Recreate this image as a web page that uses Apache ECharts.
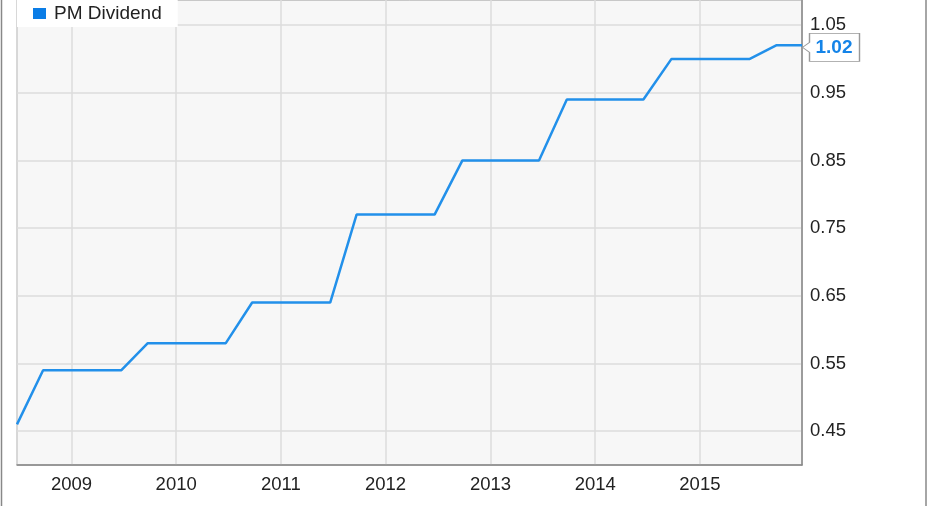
<!DOCTYPE html>
<html>
<head>
<meta charset="utf-8">
<script src="https://cdn.jsdelivr.net/npm/echarts@6/dist/echarts.min.js"></script>
<style>
  html, body { margin: 0; padding: 0; background: #fff; }
  #chart { width: 931px; height: 506px; }
</style>
</head>
<body>
<div id="chart"></div>
<script>
  // quarterly ex-dividend dates and the dividend paid per share
  const dates = [
    '2008-06-25', '2008-09-24', '2008-12-23', '2009-03-25', '2009-06-24',
    '2009-09-24', '2009-12-22', '2010-03-24', '2010-06-23', '2010-09-23',
    '2010-12-22', '2011-03-23', '2011-06-22', '2011-09-22', '2011-12-21',
    '2012-03-21', '2012-06-20', '2012-09-25', '2012-12-19', '2013-03-20',
    '2013-06-19', '2013-09-24', '2013-12-18', '2014-03-19', '2014-06-18',
    '2014-09-24', '2014-12-23', '2015-03-25', '2015-06-24', '2015-09-24',
    '2015-12-23'
  ]
  const dividend = [
    0.46, 0.54, 0.54, 0.54, 0.54,
    0.58, 0.58, 0.58, 0.58, 0.64,
    0.64, 0.64, 0.64, 0.77, 0.77,
    0.77, 0.77, 0.85, 0.85, 0.85,
    0.85, 0.94, 0.94, 0.94, 0.94,
    1.00, 1.00, 1.00, 1.00, 1.02,
    1.02
  ]
  const yTicks = [0.45, 0.55, 0.65, 0.75, 0.85, 0.95, 1.05]
  const seriesName = 'PM Dividend'

  const font = 'Liberation Sans, Arial, sans-serif'
  const last = dates.length - 1
  const chart = echarts.init(document.getElementById('chart'))

  chart.setOption({
    animation: false,
    grid: {
      left: 17,
      right: 129,
      top: 0,
      bottom: 41,
      show: true,
      backgroundColor: '#f7f7f7',
      borderColor: '#999',
      borderWidth: 1
    },
    legend: {
      data: [{ name: seriesName, icon: 'rect' }],
      left: 17,
      top: 0,
      itemWidth: 13,
      itemHeight: 11,
      padding: [4, 16, 4, 16],
      backgroundColor: '#fff',
      textStyle: {
        fontFamily: font,
        fontSize: 19,
        color: '#222',
        padding: [0, 0, 0, 3]
      }
    },
    xAxis: {
      type: 'time',
      min: 'dataMin',
      max: 'dataMax',
      minInterval: 365 * 24 * 3600 * 1000,
      maxInterval: 366 * 24 * 3600 * 1000,
      axisLine: { lineStyle: { color: '#888', width: 1.5 } },
      axisTick: { show: false },
      splitLine: { show: true, lineStyle: { color: '#dcdcdc', width: 1.5 } },
      axisLabel: {
        formatter: '{yyyy}',
        color: '#222',
        fontFamily: font,
        fontSize: 18.5,
        margin: 10,
        showMinLabel: false,
        showMaxLabel: false
      }
    },
    yAxis: {
      type: 'value',
      position: 'right',
      min: 0.4,
      max: 1.087,
      axisLine: { show: true, lineStyle: { color: '#888', width: 1.5 } },
      axisTick: { show: false, customValues: yTicks },
      splitLine: { show: true, lineStyle: { color: '#dcdcdc', width: 1.5 } },
      axisLabel: {
        customValues: yTicks,
        formatter: (v) => v.toFixed(2),
        color: '#222',
        fontFamily: font,
        fontSize: 18.5,
        margin: 8
      }
    },
    series: [
      {
        name: seriesName,
        type: 'line',
        data: dates.map((d, i) => [d, dividend[i]]),
        showSymbol: false,
        color: '#0b7de6',
        lineStyle: { color: '#2290ea', width: 2.5 },
        markPoint: {
          silent: true,
          data: [{ coord: [dates[last], dividend[last]], value: dividend[last] }],
          // callout box with a small arrow pointing at the last value
          symbol: 'path://M0 14 L7 9 L7 0 L57 0 L57 28 L7 28 L7 19 Z',
          symbolSize: [57, 28],
          symbolKeepAspect: false,
          symbolOffset: [29, 2],
          itemStyle: { color: '#fff', borderColor: '#999', borderWidth: 1 },
          label: {
            show: true,
            position: 'inside',
            offset: [3, 0],
            formatter: (p) => p.value.toFixed(2),
            color: '#1584e8',
            fontFamily: font,
            fontWeight: 'bold',
            fontSize: 19
          }
        }
      }
    ],
    graphic: [
      { type: 'line', shape: { x1: 1.5, y1: 0, x2: 1.5, y2: 506 }, style: { stroke: '#888', lineWidth: 1.5 } },
      { type: 'line', shape: { x1: 926, y1: 0, x2: 926, y2: 506 }, style: { stroke: '#888', lineWidth: 1.5 } }
    ]
  })
</script>
</body>
</html>
